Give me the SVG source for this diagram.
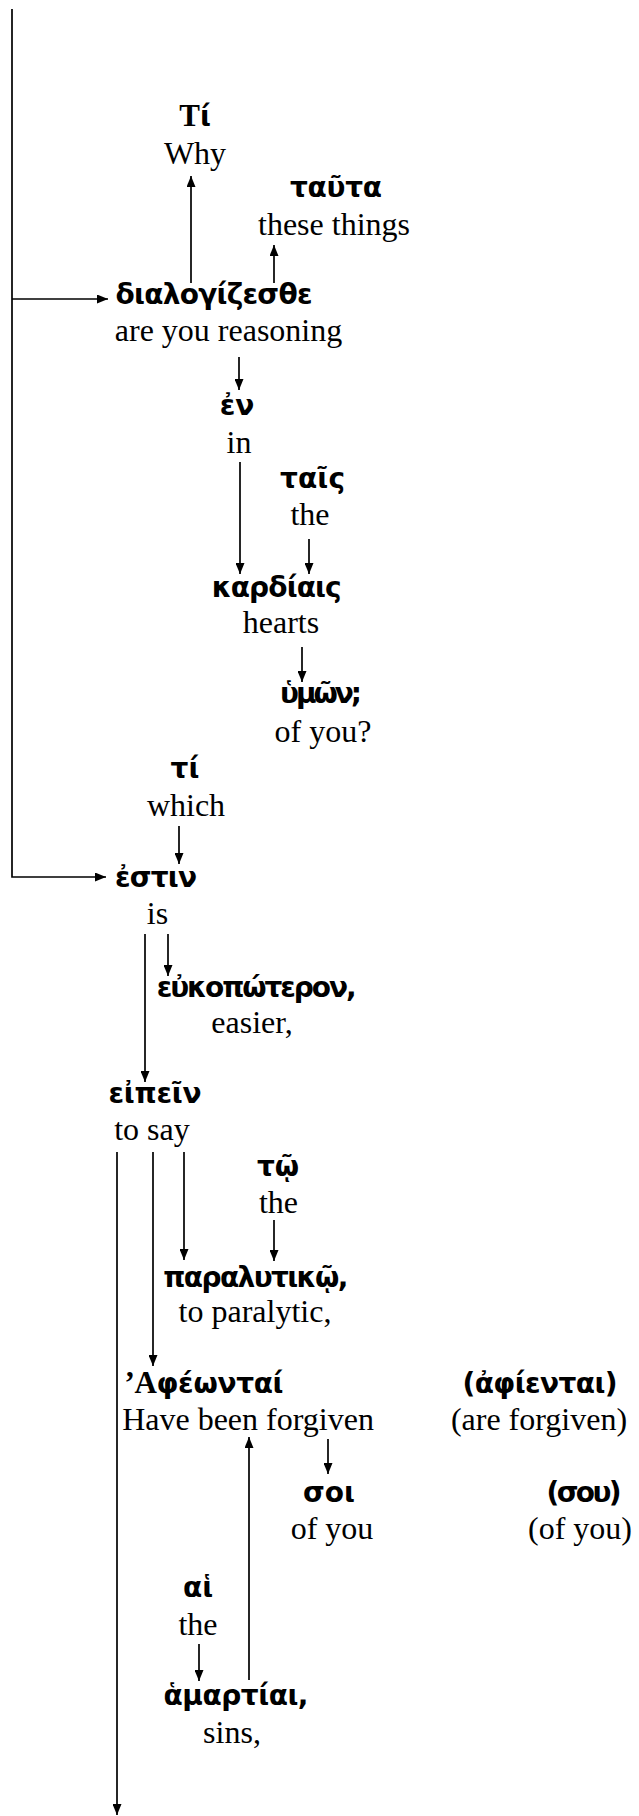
<svg xmlns="http://www.w3.org/2000/svg" width="639" height="1816" viewBox="0 0 639 1816">
<defs>
<marker id="ah" markerWidth="11" markerHeight="9" refX="11" refY="4.5" orient="auto" markerUnits="userSpaceOnUse">
<path d="M0,0 L11,4.5 L0,9 z" fill="#000"/>
</marker>
<style>
.g{font-family:"DejaVu Sans","Noto Sans",sans-serif;font-weight:bold;font-size:28px;text-anchor:middle;fill:#000}
.e{font-family:"Liberation Serif","Times New Roman",serif;font-size:32px;text-anchor:middle;fill:#000}
.s{font-family:"Liberation Serif","Times New Roman",serif;font-weight:bold;font-size:31px}
.c line,.c polyline{stroke:#000;stroke-width:1.7;fill:none}
.a{marker-end:url(#ah)}
</style>
</defs>
<rect width="639" height="1816" fill="#fff"/>
<g class="c" id="connectors">
<polyline points="12,9 12,877 106,877" class="a"/>
<line x1="12" y1="299" x2="108" y2="299" class="a"/>
<line x1="191" y1="283" x2="191" y2="176" class="a"/>
<line x1="274" y1="283" x2="274" y2="245" class="a"/>
<line x1="239" y1="357" x2="239" y2="390" class="a"/>
<line x1="240" y1="462" x2="240" y2="574" class="a"/>
<line x1="309" y1="539" x2="309" y2="574" class="a"/>
<line x1="302" y1="647" x2="302" y2="682" class="a"/>
<line x1="179" y1="826" x2="179" y2="864" class="a"/>
<line x1="168" y1="934" x2="168" y2="976" class="a"/>
<line x1="145" y1="934" x2="145" y2="1082" class="a"/>
<line x1="117" y1="1152" x2="117" y2="1815" class="a"/>
<line x1="153" y1="1152" x2="153" y2="1366" class="a"/>
<line x1="184" y1="1152" x2="184" y2="1260" class="a"/>
<line x1="274" y1="1220" x2="274" y2="1261" class="a"/>
<line x1="328" y1="1439" x2="328" y2="1474" class="a"/>
<line x1="249" y1="1680" x2="249" y2="1437" class="a"/>
<line x1="199" y1="1644" x2="199" y2="1681" class="a"/>
</g>
<g id="n-ti1"><text class="g" x="195" y="126"><tspan class="s">Τ</tspan>ί</text><text class="e" x="195" y="164">Why</text></g>
<g id="n-tauta"><text class="g" x="336" y="197" textLength="92" lengthAdjust="spacing">ταῦτα</text><text class="e" x="334" y="235">these things</text></g>
<g id="n-dialogizesthe"><text class="g" x="214" y="304" textLength="197" lengthAdjust="spacing">διαλογίζεσθε</text><text class="e" x="228.5" y="341">are you reasoning</text></g>
<g id="n-en"><text class="g" x="237" y="415">ἐν</text><text class="e" x="239" y="453">in</text></g>
<g id="n-tais"><text class="g" x="312.5" y="488" textLength="65" lengthAdjust="spacing">ταῖς</text><text class="e" x="310" y="525">the</text></g>
<g id="n-kardiais"><text class="g" x="276.7" y="597" textLength="130" lengthAdjust="spacing">καρδίαις</text><text class="e" x="281" y="633">hearts</text></g>
<g id="n-hymon"><text class="g" x="321" y="703" textLength="82" lengthAdjust="spacing">ὑμῶν;</text><text class="e" x="323" y="742">of you?</text></g>
<g id="n-ti2"><text class="g" x="185" y="778">τί</text><text class="e" x="186" y="816">which</text></g>
<g id="n-estin"><text class="g" x="156" y="887" textLength="82" lengthAdjust="spacing">ἐστιν</text><text class="e" x="157.5" y="924">is</text></g>
<g id="n-eukopoteron"><text class="g" x="256.7" y="997" textLength="200" lengthAdjust="spacing">εὐκοπώτερον,</text><text class="e" x="252" y="1033">easier,</text></g>
<g id="n-eipein"><text class="g" x="155" y="1103" textLength="93" lengthAdjust="spacing">εἰπεῖν</text><text class="e" x="152" y="1140">to say</text></g>
<g id="n-to"><text class="g" x="278" y="1176">τῷ</text><text class="e" x="278.5" y="1213">the</text></g>
<g id="n-paralytiko"><text class="g" x="255.8" y="1287" textLength="185" lengthAdjust="spacing">παραλυτικῷ,</text><text class="e" x="255" y="1322">to paralytic,</text></g>
<g id="n-apheontai"><text class="g" x="204" y="1393" textLength="159" lengthAdjust="spacing"><tspan class="s">’Α</tspan>φέωνταί</text><text class="e" x="248" y="1430">Have been forgiven</text></g>
<g id="n-aphientai"><text class="g" x="540" y="1393" textLength="155" lengthAdjust="spacing">(ἀφίενται)</text><text class="e" x="539" y="1430">(are forgiven)</text></g>
<g id="n-soi"><text class="g" x="329" y="1502">σοι</text><text class="e" x="332" y="1539">of you</text></g>
<g id="n-sou"><text class="g" x="584" y="1502" textLength="75" lengthAdjust="spacing">(σου)</text><text class="e" x="580" y="1539">(of you)</text></g>
<g id="n-hai"><text class="g" x="198" y="1597">αἱ</text><text class="e" x="198" y="1635">the</text></g>
<g id="n-hamartiai"><text class="g" x="236" y="1705" textLength="145" lengthAdjust="spacing">ἁμαρτίαι,</text><text class="e" x="232" y="1743">sins,</text></g>
</svg>
